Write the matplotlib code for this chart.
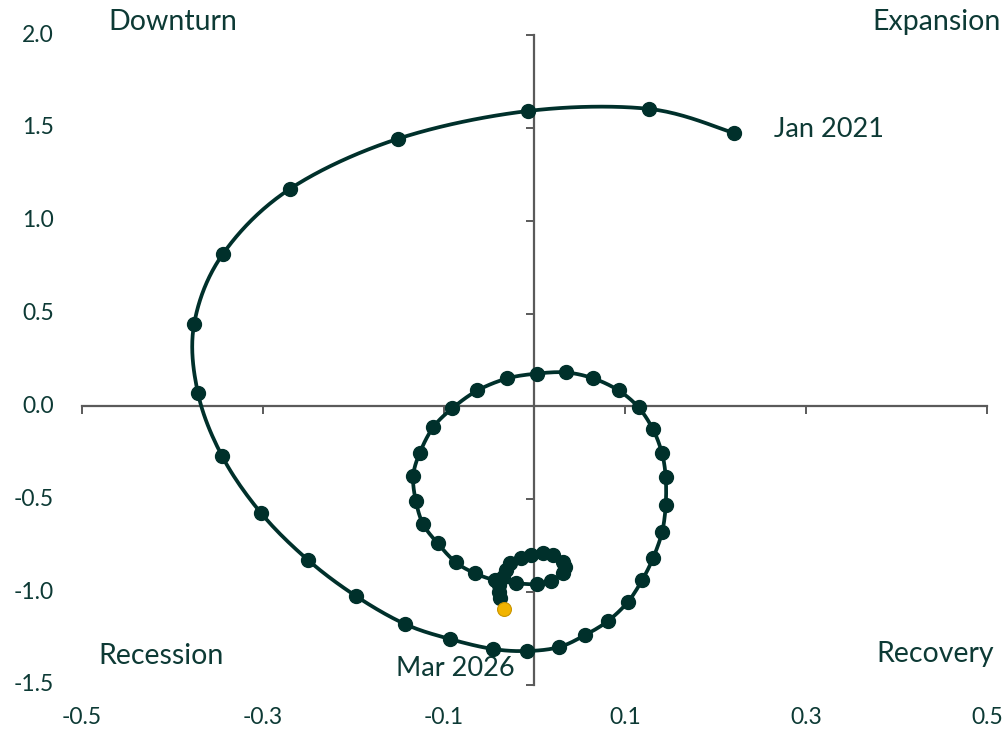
import numpy as np
import matplotlib
matplotlib.use("Agg")
import matplotlib.pyplot as plt
import matplotlib.transforms as mtransforms

# monthly path, Jan 2021 -> Mar 2026 (x = change, y = level)
x_vals = [0.220, 0.127, -0.007, -0.151, -0.270, -0.344, -0.376, -0.372, -0.345, -0.302,
          -0.250, -0.197, -0.143, -0.093, -0.046, -0.008, 0.027, 0.056, 0.081, 0.103,
          0.119, 0.131, 0.141, 0.145, 0.145, 0.141, 0.131, 0.115, 0.093, 0.065,
          0.035, 0.003, -0.030, -0.063, -0.091, -0.112, -0.127, -0.134, -0.131, -0.123,
          -0.107, -0.087, -0.066, -0.044, -0.020, 0.003, 0.018, 0.031, 0.034, 0.032,
          0.021, 0.009, -0.004, -0.015, -0.027, -0.032, -0.035, -0.039, -0.039, -0.038,
          -0.034]
y_vals = [1.473, 1.602, 1.591, 1.441, 1.172, 0.823, 0.446, 0.075, -0.269, -0.575,
          -0.828, -1.022, -1.172, -1.253, -1.306, -1.317, -1.296, -1.231, -1.156, -1.054,
          -0.935, -0.817, -0.677, -0.532, -0.382, -0.253, -0.124, -0.005, 0.086, 0.151,
          0.183, 0.177, 0.151, 0.086, -0.011, -0.113, -0.253, -0.376, -0.511, -0.634,
          -0.737, -0.839, -0.898, -0.935, -0.952, -0.957, -0.941, -0.898, -0.866, -0.839,
          -0.801, -0.790, -0.801, -0.817, -0.844, -0.882, -0.919, -0.962, -1.000, -1.032,
          -1.091]

x_ticks = [-0.5, -0.3, -0.1, 0.1, 0.3, 0.5]
y_ticks = [-1.5, -1.0, -0.5, 0.0, 0.5, 1.0, 1.5, 2.0]

DARK = "#00302b"
TEXT = "#0d3a35"
AXIS = "#5a5a5a"
YELLOW = "#f2b400"

plt.rcParams["font.family"] = ["Lato", "DejaVu Sans"]


def smooth(xs, ys, n=12):
    # catmull-rom style curve through the points, only for drawing the line
    p = np.column_stack([xs, ys])
    p = np.vstack([p[0], p, p[-1]])
    out = []
    for i in range(1, len(p) - 2):
        p0, p1, p2, p3 = p[i - 1], p[i], p[i + 1], p[i + 2]
        for t in np.linspace(0, 1, n, endpoint=False):
            t2, t3 = t * t, t * t * t
            out.append(0.5 * ((2 * p1) + (-p0 + p2) * t
                              + (2 * p0 - 5 * p1 + 4 * p2 - p3) * t2
                              + (-p0 + 3 * p1 - 3 * p2 + p3) * t3))
    out.append(p[-2])
    out = np.array(out)
    return out[:, 0], out[:, 1]


fig = plt.figure(figsize=(10.07, 7.36), dpi=100)
ax = fig.add_axes([0.0814, 0.0693, 0.8987, 0.8831])
ax.set_xlim(-0.5, 0.5)
ax.set_ylim(-1.5, 2.0)

for s in ["top", "right"]:
    ax.spines[s].set_visible(False)
ax.spines["left"].set_position(("data", 0))
ax.spines["bottom"].set_position(("data", 0))
for s in ["left", "bottom"]:
    ax.spines[s].set_color(AXIS)
    ax.spines[s].set_linewidth(1.6)

ax.set_xticks(x_ticks)
ax.set_yticks(y_ticks)
ax.tick_params(axis="x", direction="out", length=6, width=1.4, color=AXIS, labelbottom=False)
ax.tick_params(axis="y", direction="out", length=6, width=1.4, color=AXIS, labelleft=False)

# tick labels sit at the figure edges, not on the crossing spines
xt = mtransforms.blended_transform_factory(ax.transData, ax.transAxes)
for v in x_ticks:
    ax.text(v, -0.05, f"{v:.1f}", transform=xt, ha="center", va="center",
            fontsize=16.5, color=TEXT, clip_on=False)
yt = mtransforms.blended_transform_factory(ax.transAxes, ax.transData)
for v in y_ticks:
    ax.text(-0.031, v, f"{v:.1f}", transform=yt, ha="right", va="center",
            fontsize=16.5, color=TEXT, clip_on=False)

sx, sy = smooth(x_vals, y_vals)
ax.plot(sx, sy, color=DARK, lw=2.7, solid_capstyle="round", zorder=3)
ax.plot(x_vals[:-1], y_vals[:-1], "o", color=DARK, ms=10, zorder=4)
ax.plot(x_vals[-1], y_vals[-1], "o", color=YELLOW, mec="#c99400", mew=0.8, ms=10, zorder=5)

ax.text(0.265, 1.49, "Jan 2021", fontsize=19.5, color=TEXT, ha="left", va="center")
ax.text(-0.088, -1.41, "Mar 2026", fontsize=19.5, color=TEXT, ha="center", va="center")

fig.text(108 / 1007, 1 - 22 / 736, "Downturn", fontsize=20.5, color=TEXT, ha="left", va="center")
fig.text(1001 / 1007, 1 - 22 / 736, "Expansion", fontsize=20.5, color=TEXT, ha="right", va="center")
fig.text(98 / 1007, 1 - 656 / 736, "Recession", fontsize=20.5, color=TEXT, ha="left", va="center")
fig.text(994 / 1007, 1 - 654 / 736, "Recovery", fontsize=20.5, color=TEXT, ha="right", va="center")

fig.savefig("out.png", dpi=100, facecolor="white")
